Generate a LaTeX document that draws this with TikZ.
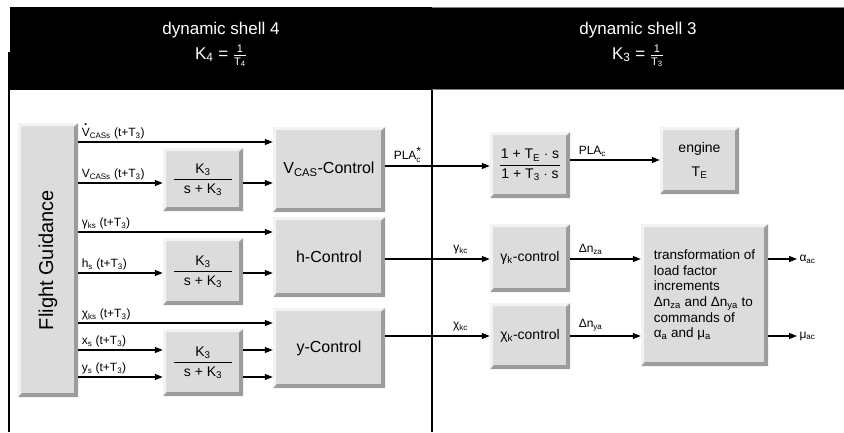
\documentclass[tikz,border=0pt]{standalone}
\usepackage{fontspec}
\setmainfont{Liberation Sans}
\usepackage{amsmath}
\usetikzlibrary{arrows.meta}
\definecolor{boxgray}{HTML}{DCDCDC}
\definecolor{bevdark}{HTML}{9C9C9C}
\definecolor{bevlight}{HTML}{F3F3F3}
\newcommand{\sbs}[1]{\textsubscript{#1}}
\newcommand{\Vdot}{\ooalign{V\cr\hidewidth\raisebox{0.95em}{\bfseries .}\hidewidth\cr}}
\newcommand{\bfr}[3]{$\genfrac{}{}{0.9pt}{0}{\makebox[#1]{#2}}{\makebox[#1]{#3}}$}
\newcommand{\hfr}[1]{$\genfrac{}{}{0.6pt}{1}{\mbox{\fontsize{11}{13}\selectfont 1}}{\mbox{\fontsize{11}{13}\selectfont T\sbs{#1}}}$}
\tikzset{
  bevel/.style={rectangle, fill=boxgray, inner sep=0pt, align=center,
    path picture={
      \fill[bevdark] (path picture bounding box.south west) -- (path picture bounding box.south east)
        -- (path picture bounding box.north east) -- ([shift={(-4pt,-4pt)}]path picture bounding box.north east)
        -- ([shift={(-4pt,4pt)}]path picture bounding box.south east) -- ([shift={(4pt,4pt)}]path picture bounding box.south west) -- cycle;
      \fill[bevlight] (path picture bounding box.north west) -- (path picture bounding box.north east)
        -- ([shift={(-4pt,-3pt)}]path picture bounding box.north east) -- ([shift={(3pt,-3pt)}]path picture bounding box.north west)
        -- ([shift={(3pt,4pt)}]path picture bounding box.south west) -- (path picture bounding box.south west) -- cycle;
    }},
  bigtxt/.style={font=\fontsize{16}{19}\selectfont},
  midtxt/.style={font=\fontsize{14}{17}\selectfont},
  lbl/.style={font=\fontsize{12}{14}\selectfont, inner sep=1pt},
  hdr/.style={text=white, font=\fontsize{17}{20}\selectfont, inner sep=0pt},
  arr/.style={line width=1.1pt, -{Triangle[length=8pt,width=6pt]}},
  ln/.style={line width=1.1pt}
}
\begin{document}
\begin{tikzpicture}[x=1pt,y=-1pt]
\useasboundingbox (0,0) rectangle (844,432);
% header
\fill[black] (10,7) rectangle (844,90);
\draw[gray, line width=0.8pt] (432,7.4) -- (844,7.4) (432,89.6) -- (844,89.6);
\node[hdr] (h4a) at (221,30) {dynamic shell 4};
\node[hdr] (h4b) at (221,56) {K\sbs{4} = \hfr{4}};
\node[hdr] (h3a) at (638,30) {dynamic shell 3};
\node[hdr] (h3b) at (638,56) {K\sbs{3} = \hfr{3}};
% frame lines
\draw[line width=1.2pt] (9,52) -- (9,432);
\draw[line width=2pt] (432,90) -- (432,432);
% boxes
\node[bevel, minimum width=60pt, minimum height=274pt, font=\fontsize{20}{24}\selectfont] (FG) at (48,260) {\rotatebox{90}{Flight Guidance}};
\node[bevel, bigtxt, minimum width=112pt, minimum height=85pt] (VC) at (329,169.5) {V\sbs{CAS}-Control};
\node[bevel, bigtxt, minimum width=112pt, minimum height=80pt] (HC) at (329,257) {h-Control};
\node[bevel, bigtxt, minimum width=112pt, minimum height=80pt] (YC) at (329,348) {y-Control};
\node[bevel, midtxt, minimum width=80pt, minimum height=63pt] (K1) at (203,179.5) {\bfr{58pt}{K\sbs{3}}{s + K\sbs{3}}};
\node[bevel, midtxt, minimum width=80pt, minimum height=67pt] (K2) at (203,271.5) {\bfr{58pt}{K\sbs{3}}{s + K\sbs{3}}};
\node[bevel, midtxt, minimum width=80pt, minimum height=67pt] (K3) at (203,362.5) {\bfr{58pt}{K\sbs{3}}{s + K\sbs{3}}};
\node[bevel, midtxt, minimum width=80pt, minimum height=66pt] (TE) at (530,165) {\bfr{60pt}{1 + T\sbs{E} $\cdot$ s}{1 + T\sbs{3} $\cdot$ s}};
\node[bevel, midtxt, minimum width=79pt, minimum height=67pt] (EN) at (699.5,160.5) {engine\\[7pt]T\sbs{E}};
\node[bevel, midtxt, minimum width=80pt, minimum height=68pt] (GK) at (530,258) {γ\sbs{k}-control};
\node[bevel, midtxt, minimum width=80pt, minimum height=66pt] (XK) at (530,336) {χ\sbs{k}-control};
\node[bevel, font=\fontsize{13.5}{15.6}\selectfont, align=left, minimum width=127pt, minimum height=142pt] (TR) at (704.5,295)
  {transformation of\\load factor\\increments\\Δn\sbs{za} and Δn\sbs{ya} to\\commands of\\α\sbs{a} and μ\sbs{a}};
% row levels
\coordinate (r1) at (0,142);
\coordinate (r2) at (0,183);
\coordinate (r3) at (0,232);
\coordinate (r4) at (0,273);
\coordinate (r5) at (0,323);
\coordinate (r6) at (0,350);
\coordinate (r7) at (0,377);
\coordinate (pc) at (0,166);
\coordinate (pe) at (0,160);
\coordinate (gk) at (0,259);
\coordinate (xk) at (0,336);
% left arrows
\draw[arr] (FG.east |- r1) -- node[lbl, pos=0, anchor=south west, xshift=2pt, yshift=1pt] (l1) {\Vdot\sbs{CASs} (t+T\sbs{3})} (VC.west |- r1);
\draw[arr] (FG.east |- r2) -- node[lbl, pos=0, anchor=south west, xshift=2pt, yshift=1pt] (l2) {V\sbs{CASs} (t+T\sbs{3})} (K1.west |- r2);
\draw[arr] (K1.east |- r2) -- (VC.west |- r2);
\draw[arr] (FG.east |- r3) -- node[lbl, pos=0, anchor=south west, xshift=2pt, yshift=1pt] (l3) {γ\sbs{ks} (t+T\sbs{3})} (HC.west |- r3);
\draw[arr] (FG.east |- r4) -- node[lbl, pos=0, anchor=south west, xshift=2pt, yshift=1pt] (l4) {h\sbs{s} (t+T\sbs{3})} (K2.west |- r4);
\draw[arr] (K2.east |- r4) -- (HC.west |- r4);
\draw[arr] (FG.east |- r5) -- node[lbl, pos=0, anchor=south west, xshift=2pt, yshift=1pt] (l5) {χ\sbs{ks} (t+T\sbs{3})} (YC.west |- r5);
\draw[arr] (FG.east |- r6) -- node[lbl, pos=0, anchor=south west, xshift=2pt, yshift=1pt] (l6) {x\sbs{s} (t+T\sbs{3})} (K3.west |- r6);
\draw[arr] (K3.east |- r6) -- (YC.west |- r6);
\draw[arr] (FG.east |- r7) -- node[lbl, pos=0, anchor=south west, xshift=2pt, yshift=1pt] (l7) {y\sbs{s} (t+T\sbs{3})} (K3.west |- r7);
\draw[arr] (K3.east |- r7) -- (YC.west |- r7);
% right arrows
\draw[arr] (VC.east |- pc) -- node[lbl, pos=0, anchor=south west, xshift=7pt, yshift=2pt] (l8) {PLA$^{\mbox{\fontsize{12}{12}\selectfont *}}_{\mbox{\fontsize{8}{9}\selectfont c}}$} (TE.west |- pc);
\draw[arr] (TE.east |- pe) -- node[lbl, pos=0, anchor=south west, xshift=7pt, yshift=2pt] (l9) {PLA\sbs{c}} (EN.west |- pe);
\draw[arr] (HC.east |- gk) -- node[lbl, pos=0.72, anchor=south, yshift=3pt] (l10) {γ\sbs{kc}} (GK.west |- gk);
\draw[arr] (GK.east |- gk) -- node[lbl, pos=0, anchor=south west, xshift=7pt, yshift=3pt] (l11) {Δn\sbs{za}} (TR.west |- gk);
\draw[arr] (YC.east |- xk) -- node[lbl, pos=0.72, anchor=south, yshift=3pt] (l12) {χ\sbs{kc}} (XK.west |- xk);
\draw[arr] (XK.east |- xk) -- node[lbl, pos=0, anchor=south west, xshift=7pt, yshift=3pt] (l13) {Δn\sbs{ya}} (TR.west |- xk);
\coordinate (aend) at (797,259);
\coordinate (mend) at (797,336);
\draw[arr] (TR.east |- gk) -- (aend) node[lbl, anchor=west, xshift=1pt] (l14) {α\sbs{ac}};
\draw[arr] (TR.east |- xk) -- (mend) node[lbl, anchor=west, xshift=1pt] (l15) {μ\sbs{ac}};
\end{tikzpicture}
\end{document}
